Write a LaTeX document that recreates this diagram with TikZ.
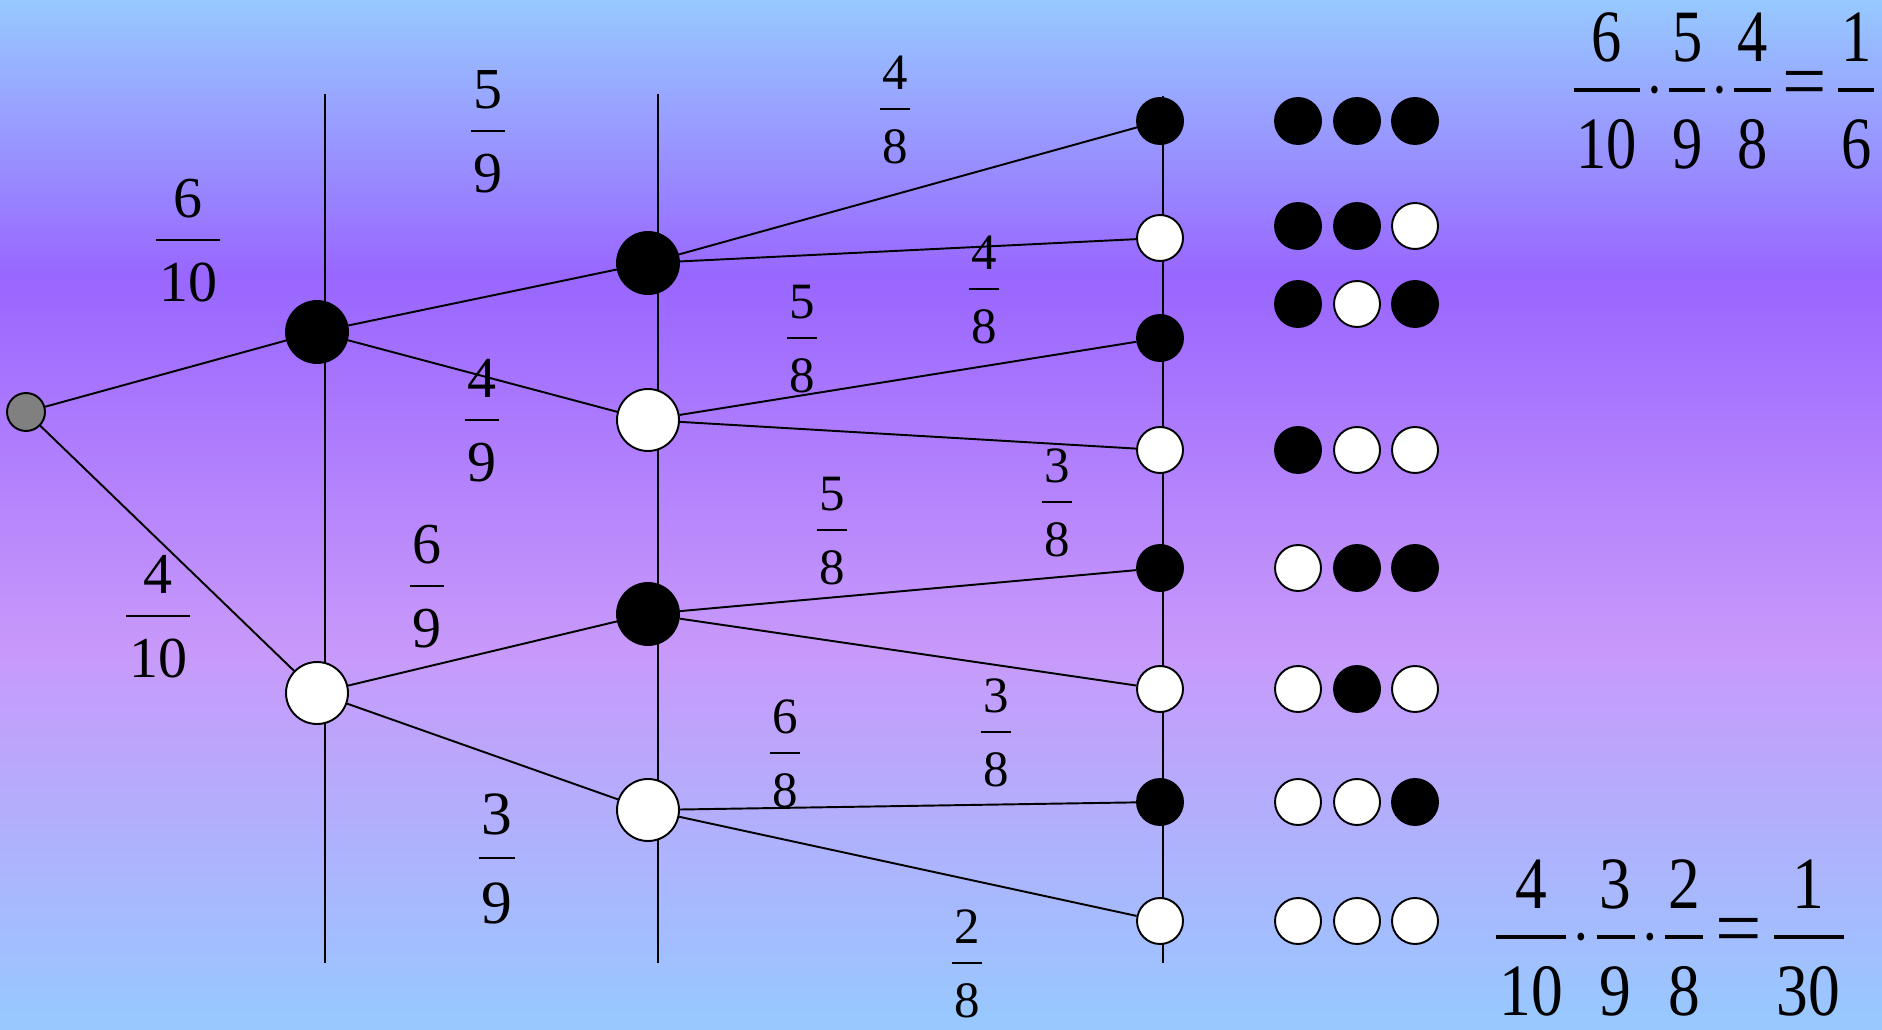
\RequirePackage{fix-cm}
\documentclass[tikz,border=0pt]{standalone}
\usepackage{graphicx}
\usepackage{fontspec}
\setmainfont{Liberation Serif}
\definecolor{sky}{HTML}{97C9FF}
\definecolor{violet}{HTML}{9966FF}
\definecolor{lilac}{HTML}{C899FA}
\tikzset{
  ball/.style={circle, draw=black, line width=1.1pt, inner sep=0pt},
  bl/.style={ball, fill=black},
  wh/.style={ball, fill=white},
  lvl/.style={minimum size=1.24cm},
  leaf/.style={minimum size=0.92cm},
  prob/.style={font=\fontsize{33}{40}\selectfont, inner sep=0pt},
  probs/.style={font=\fontsize{29}{35}\selectfont, inner sep=0pt},
  total/.style={font=\fontsize{42}{51}\selectfont, inner sep=0pt}
}
\newcommand{\fr}[2]{{\setlength{\arrayrulewidth}{0.045em}\setlength{\tabcolsep}{0.05em}%
  \renewcommand{\arraystretch}{0}%
  \begin{tabular}{c}\rule[-0.364em]{0pt}{1.08em}#1\\\hline\rule[-0.04em]{0pt}{1.08em}#2\end{tabular}}}
\newcommand{\dt}{\hspace{0.1em}$\cdot$\hspace{0.1em}}
\newcommand{\eq}{\hspace{0.2em}\scalebox{1.3}[1.1]{=}\hspace{0.18em}}
\begin{document}
\begin{tikzpicture}[x=0.02cm, y=-0.02cm, line width=1.1pt]
      \useasboundingbox (0,0) rectangle (1882,1030);
      \fill[top color=sky, bottom color=violet] (0,0) rectangle (1882,277);
      \fill[top color=violet, bottom color=lilac] (0,276) rectangle (1882,649);
      \fill[top color=lilac, bottom color=sky] (0,648) rectangle (1882,1030);
      \coordinate (t1) at (325,94);
      \coordinate (b1) at (325,963);
      \coordinate (t2) at (658,94);
      \coordinate (b2) at (658,963);
      \coordinate (t3) at (1163,96);
      \coordinate (b3) at (1163,963);
      \draw (t1) -- (b1) (t2) -- (b2) (t3) -- (b3);
      \node[ball, fill=gray, minimum size=0.76cm] (r) at (26,412) {};
      \node[bl, lvl] (b) at (317,332) {};
      \node[wh, lvl] (w) at (317,693) {};
      \node[bl, lvl] (bb) at (648,263) {};
      \node[wh, lvl] (bw) at (648,420) {};
      \node[bl, lvl] (wb) at (648,614) {};
      \node[wh, lvl] (ww) at (648,810) {};
      \node[bl, leaf] (bbb) at (1160,121) {};
      \node[wh, leaf] (bbw) at (1160,238) {};
      \node[bl, leaf] (bwb) at (1160,338) {};
      \node[wh, leaf] (bww) at (1160,450) {};
      \node[bl, leaf] (wbb) at (1160,568) {};
      \node[wh, leaf] (wbw) at (1160,689) {};
      \node[bl, leaf] (wwb) at (1160,802) {};
      \node[wh, leaf] (www) at (1160,921) {};
      \begin{scope}[-]
        \draw (r) to (b);
        \draw (r) to (w);
        \draw (b) to (bb);
        \draw (b) to (bw);
        \draw (w) to (wb);
        \draw (w) to (ww);
        \draw (bb) to (bbb);
        \draw (bb) to (bbw);
        \draw (bw) to (bwb);
        \draw (bw) to (bww);
        \draw (wb) to (wbb);
        \draw (wb) to (wbw);
        \draw (ww) to (wwb);
        \draw (ww) to (www);
      \end{scope}
      \foreach \y/\a/\b/\c [count=\i] in {121/bl/bl/bl, 226/bl/bl/wh, 304/bl/wh/bl, 450/bl/wh/wh,
                                           568/wh/bl/bl, 689/wh/bl/wh, 802/wh/wh/bl, 921/wh/wh/wh} {
        \node[\a, leaf] (s\i a) at (1298,\y) {};
        \node[\b, leaf] (s\i b) at (1357,\y) {};
        \node[\c, leaf] (s\i c) at (1415,\y) {};
      }
      \node[prob] (p610) at (188,240) {\fr{6}{10}};
      \node[prob] (p410) at (158,616) {\fr{4}{10}};
      \node[prob] (p59) at (488,131) {\fr{5}{9}};
      \node[prob] (p49) at (482,420) {\fr{4}{9}};
      \node[prob] (p69) at (427,586) {\fr{6}{9}};
      \node[prob, font=\fontsize{35}{42}\selectfont] (p39) at (497,858) {\fr{3}{9}};
      \node[probs] (p48a) at (895,109) {\fr{4}{8}};
      \node[probs] (p48b) at (984,289) {\fr{4}{8}};
      \node[probs] (p58a) at (802,338) {\fr{5}{8}};
      \node[probs] (p38a) at (1057,502) {\fr{3}{8}};
      \node[probs] (p58b) at (832,530) {\fr{5}{8}};
      \node[probs] (p38b) at (996,732) {\fr{3}{8}};
      \node[probs] (p68) at (785,753) {\fr{6}{8}};
      \node[probs] (p28) at (967,963) {\fr{2}{8}};
      \node[total] (f1) at (1724,90) {\scalebox{0.82}[1]{\fr{6}{10}\dt\fr{5}{9}\dt\fr{4}{8}\eq\fr{1}{6}}};
      \node[total] (f2) at (1670,937) {\scalebox{0.86}[1]{\fr{4}{10}\dt\fr{3}{9}\dt\fr{2}{8}\eq\fr{1}{30}}};
    \end{tikzpicture}
\end{document}
